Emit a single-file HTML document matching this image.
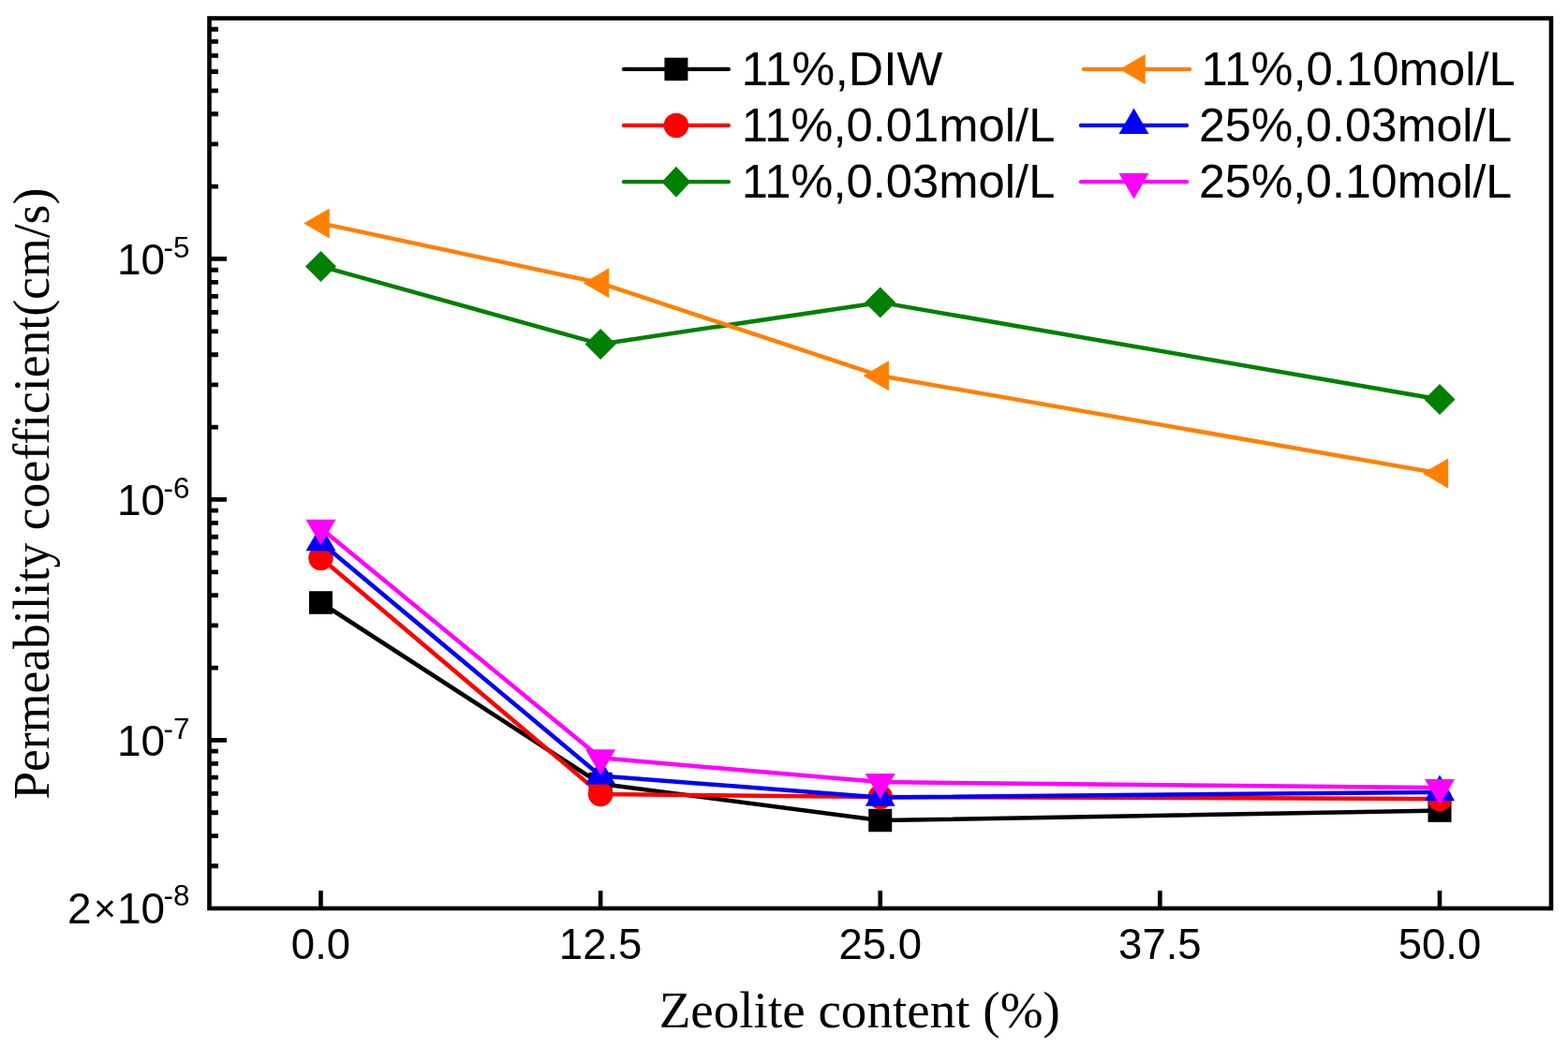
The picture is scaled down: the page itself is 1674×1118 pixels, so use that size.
<!DOCTYPE html><html><head><meta charset="utf-8"><title>Permeability coefficient vs zeolite content</title><style>html,body{margin:0;padding:0;background:#fff;overflow:hidden}svg{display:block}text{font-variant-ligatures:none}</style></head><body>
<svg width="1674" height="1118" viewBox="0 0 1674 1118">
<rect x="0" y="0" width="1674" height="1118" fill="#fff"/>
<g id="frame"><rect x="223.5" y="19.5" width="1432.5" height="950.5" fill="none" stroke="#000" stroke-width="4.6"/>
<path d="M223.5 924.77H233 M223.5 892.67H233 M223.5 867.77H233 M223.5 847.42H233 M223.5 830.22H233 M223.5 815.31H233 M223.5 802.17H233 M223.5 790.41H242 M223.5 713.05H233 M223.5 667.80H233 M223.5 635.70H233 M223.5 610.80H233 M223.5 590.45H233 M223.5 573.25H233 M223.5 558.34H233 M223.5 545.20H233 M223.5 533.44H242 M223.5 456.08H233 M223.5 410.83H233 M223.5 378.73H233 M223.5 353.83H233 M223.5 333.48H233 M223.5 316.28H233 M223.5 301.37H233 M223.5 288.23H233 M223.5 276.47H242 M223.5 199.11H233 M223.5 153.86H233 M223.5 121.76H233 M223.5 96.86H233 M223.5 76.51H233 M223.5 59.31H233 M223.5 44.40H233 M223.5 31.26H233" stroke="#000" stroke-width="4.8" fill="none"/>
<path d="M342.50 970V951 M641.12 970V951 M939.75 970V951 M1238.38 970V951 M1537.00 970V951" stroke="#000" stroke-width="4.6" fill="none"/></g>
<text x="342.50" y="1023.9" text-anchor="middle" font-family="Liberation Sans, Arial, sans-serif" font-size="45.5">0.0</text>
<text x="641.12" y="1023.9" text-anchor="middle" font-family="Liberation Sans, Arial, sans-serif" font-size="45.5">12.5</text>
<text x="939.75" y="1023.9" text-anchor="middle" font-family="Liberation Sans, Arial, sans-serif" font-size="45.5">25.0</text>
<text x="1238.38" y="1023.9" text-anchor="middle" font-family="Liberation Sans, Arial, sans-serif" font-size="45.5">37.5</text>
<text x="1537.00" y="1023.9" text-anchor="middle" font-family="Liberation Sans, Arial, sans-serif" font-size="45.5">50.0</text>
<text x="124.95" y="292.97" font-family="Liberation Sans, Arial, sans-serif" font-size="46">10</text>
<text x="174.50" y="274.77" font-family="Liberation Sans, Arial, sans-serif" font-size="31.5">-5</text>
<text x="124.95" y="549.94" font-family="Liberation Sans, Arial, sans-serif" font-size="46">10</text>
<text x="174.50" y="531.74" font-family="Liberation Sans, Arial, sans-serif" font-size="31.5">-6</text>
<text x="124.95" y="806.91" font-family="Liberation Sans, Arial, sans-serif" font-size="46">10</text>
<text x="174.50" y="788.71" font-family="Liberation Sans, Arial, sans-serif" font-size="31.5">-7</text>
<text x="124.95" y="985.62" font-family="Liberation Sans, Arial, sans-serif" font-size="46">10</text>
<text x="174.50" y="967.42" font-family="Liberation Sans, Arial, sans-serif" font-size="31.5">-8</text>
<text x="71.9" y="985.62" font-family="Liberation Sans, Arial, sans-serif" font-size="46">2</text>
<text x="100" y="984.1" font-family="Liberation Sans, Arial, sans-serif" font-size="41">×</text>
<text id="xtitle" x="706" y="1097.3" font-family="Liberation Serif, Times New Roman, serif" font-size="54" transform="matrix(1.02012 0 0 1 -16.495 0)">Zeolite content (%)</text>
<g transform="translate(51.6 853) rotate(-90)"><text id="ytitle" x="0" y="0" font-family="Liberation Serif, Times New Roman, serif" font-size="54" transform="matrix(0.99373 0 0 1 -0.794 0)">Permeability coefficient(cm/s)</text></g>
<g id="data">
<polyline points="342.50,643.50 641.10,837.00 939.75,876.00 1537.00,865.60" fill="none" stroke="#000000" stroke-width="4.5" stroke-linejoin="round"/>
<rect x="330.00" y="631.25" width="25" height="24.5" fill="#000000"/>
<rect x="628.60" y="824.75" width="25" height="24.5" fill="#000000"/>
<rect x="927.25" y="863.75" width="25" height="24.5" fill="#000000"/>
<rect x="1524.50" y="853.35" width="25" height="24.5" fill="#000000"/>
<polyline points="342.50,595.80 641.10,847.90 939.75,851.00 1537.00,853.00" fill="none" stroke="#FF0000" stroke-width="4.5" stroke-linejoin="round"/>
<circle cx="342.50" cy="595.80" r="13.25" fill="#FF0000"/>
<circle cx="641.10" cy="847.90" r="13.25" fill="#FF0000"/>
<circle cx="939.75" cy="851.00" r="13.25" fill="#FF0000"/>
<circle cx="1537.00" cy="853.00" r="13.25" fill="#FF0000"/>
<polyline points="342.50,284.40 641.10,367.40 939.75,322.90 1537.00,426.50" fill="none" stroke="#008000" stroke-width="4.5" stroke-linejoin="round"/>
<path d="M342.50 267.90L359.00 284.40L342.50 300.90L326.00 284.40Z" fill="#008000"/>
<path d="M641.10 350.90L657.60 367.40L641.10 383.90L624.60 367.40Z" fill="#008000"/>
<path d="M939.75 306.40L956.25 322.90L939.75 339.40L923.25 322.90Z" fill="#008000"/>
<path d="M1537.00 410.00L1553.50 426.50L1537.00 443.00L1520.50 426.50Z" fill="#008000"/>
<polyline points="342.50,238.40 641.10,302.30 939.75,401.30 1537.00,505.40" fill="none" stroke="#FF8000" stroke-width="4.5" stroke-linejoin="round"/>
<path d="M324.17 238.40L351.67 222.40L351.67 254.40Z" fill="#FF8000"/>
<path d="M622.77 302.30L650.27 286.30L650.27 318.30Z" fill="#FF8000"/>
<path d="M921.42 401.30L948.92 385.30L948.92 417.30Z" fill="#FF8000"/>
<path d="M1518.67 505.40L1546.17 489.40L1546.17 521.40Z" fill="#FF8000"/>
<polyline points="342.50,579.20 641.10,828.40 939.75,851.50 1537.00,845.80" fill="none" stroke="#0000FF" stroke-width="4.5" stroke-linejoin="round"/>
<path d="M342.50 560.87L358.50 588.37L326.50 588.37Z" fill="#0000FF"/>
<path d="M641.10 810.07L657.10 837.57L625.10 837.57Z" fill="#0000FF"/>
<path d="M939.75 833.17L955.75 860.67L923.75 860.67Z" fill="#0000FF"/>
<path d="M1537.00 827.47L1553.00 854.97L1521.00 854.97Z" fill="#0000FF"/>
<polyline points="342.50,564.00 641.10,809.30 939.75,835.10 1537.00,841.20" fill="none" stroke="#FF00FF" stroke-width="4.5" stroke-linejoin="round"/>
<path d="M342.50 582.33L358.50 554.83L326.50 554.83Z" fill="#FF00FF"/>
<path d="M641.10 827.63L657.10 800.13L625.10 800.13Z" fill="#FF00FF"/>
<path d="M939.75 853.43L955.75 825.93L923.75 825.93Z" fill="#FF00FF"/>
<path d="M1537.00 859.53L1553.00 832.03L1521.00 832.03Z" fill="#FF00FF"/>
</g>
<g id="legend">
<line x1="666.00" y1="73.9" x2="777.80" y2="73.9" stroke="#000000" stroke-width="4.3" stroke-linecap="round"/>
<rect x="709.40" y="61.65" width="25" height="24.5" fill="#000000"/>
<text id="leg1" x="791.5" y="90.8" font-family="Liberation Sans, Arial, sans-serif" font-size="50" transform="matrix(1.03603 0 0 1 -28.393 0)">11%,DIW</text>
<line x1="666.00" y1="133.9" x2="777.80" y2="133.9" stroke="#FF0000" stroke-width="4.3" stroke-linecap="round"/>
<circle cx="721.90" cy="133.90" r="13.25" fill="#FF0000"/>
<text id="leg2" x="791.5" y="150.8" font-family="Liberation Sans, Arial, sans-serif" font-size="50" transform="matrix(1.01492 0 0 1 -11.614 0)">11%,0.01mol/L</text>
<line x1="666.00" y1="194.2" x2="777.80" y2="194.2" stroke="#008000" stroke-width="4.3" stroke-linecap="round"/>
<path d="M721.90 177.70L737.30 194.20L721.90 210.70L706.50 194.20Z" fill="#008000"/>
<text id="leg3" x="791.5" y="210.8" font-family="Liberation Sans, Arial, sans-serif" font-size="50" transform="matrix(1.01492 0 0 1 -11.614 0)">11%,0.03mol/L</text>
<line x1="1157.00" y1="73.9" x2="1270.00" y2="73.9" stroke="#FF8000" stroke-width="4.3" stroke-linecap="round"/>
<path d="M1195.17 73.90L1222.67 57.90L1222.67 89.90Z" fill="#FF8000"/>
<text id="leg4" x="1282.9" y="90.8" font-family="Liberation Sans, Arial, sans-serif" font-size="50" transform="matrix(1.01728 0 0 1 -22.644 0)">11%,0.10mol/L</text>
<line x1="1154.00" y1="133.9" x2="1267.00" y2="133.9" stroke="#0000FF" stroke-width="4.3" stroke-linecap="round"/>
<path d="M1210.50 115.57L1226.50 143.07L1194.50 143.07Z" fill="#0000FF"/>
<text id="leg5" x="1279.7" y="150.8" font-family="Liberation Sans, Arial, sans-serif" font-size="50" transform="matrix(1.00273 0 0 1 -3.296 0)">25%,0.03mol/L</text>
<line x1="1154.00" y1="194.2" x2="1267.00" y2="194.2" stroke="#FF00FF" stroke-width="4.3" stroke-linecap="round"/>
<path d="M1210.50 212.53L1226.50 185.03L1194.50 185.03Z" fill="#FF00FF"/>
<text id="leg6" x="1279.7" y="210.8" font-family="Liberation Sans, Arial, sans-serif" font-size="50" transform="matrix(1.00273 0 0 1 -3.296 0)">25%,0.10mol/L</text>
</g>
</svg></body></html>
